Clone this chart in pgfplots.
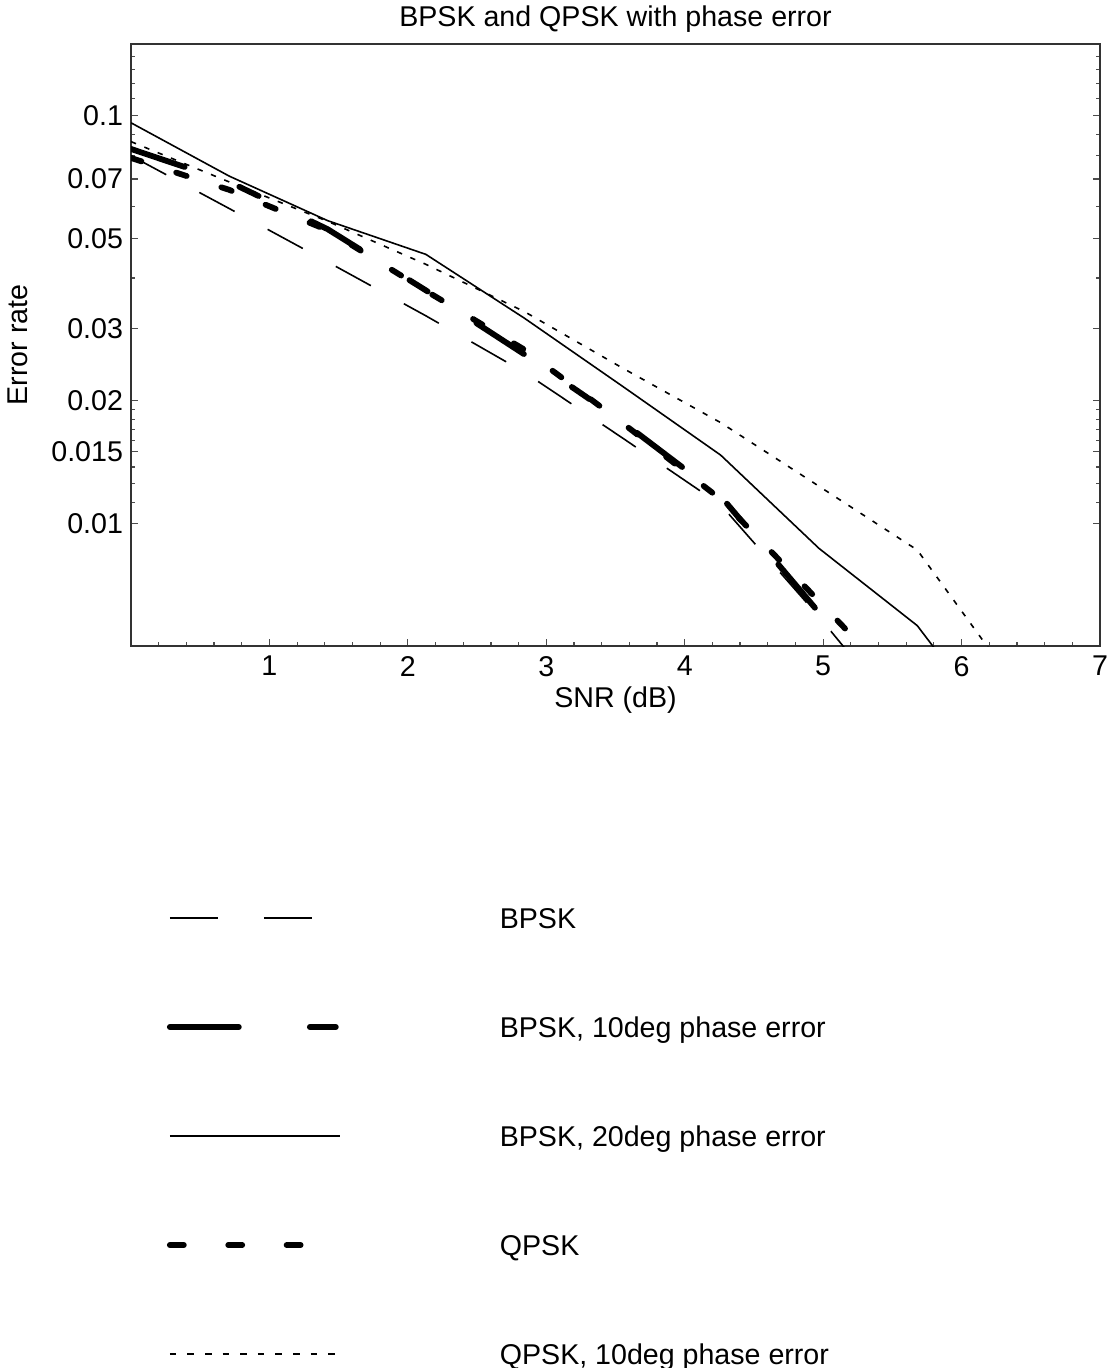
\documentclass[border=0pt]{standalone}
\usepackage{fontspec}
\setmainfont{Liberation Sans}
\usepackage{pgfplots}
\pgfplotsset{compat=1.18}

\newcommand{\lblfont}{\fontsize{14.3}{17}\selectfont}

\begin{document}
\begin{tikzpicture}
\useasboundingbox (-65.5pt,-361pt) rectangle (489pt,323pt);
\begin{axis}[
  scale only axis,
  width=484.5pt, height=301pt,
  xmin=0, xmax=7,
  ymode=log, ymin=0.005, ymax=0.15,
  xtick={0,1,...,7},
  xticklabels={,1,2,3,4,5,6,7},
  minor x tick num=4,
  ytick={0.01,0.015,0.02,0.03,0.05,0.07,0.1},
  yticklabels={0.01,0.015,0.02,0.03,0.05,0.07,0.1},
  minor ytick={0.01125,0.0125,0.01375,0.016,0.017,0.018,0.019,0.04,0.06,0.08,0.09,0.11,0.12,0.13,0.14},
  xtick pos=left, ytick pos=both,
  tick align=inside,
  major tick length=3.5pt, minor tick length=2.2pt,
  axis line style={black!80, line width=0.7pt},
  every tick/.style={black!70, line width=0.6pt},
  /pgf/number format/assume math mode=true,
  tick label style={font=\lblfont},
  xticklabel style={yshift=-1.5pt},
  yticklabel style={xshift=-0.5pt},
  title={BPSK and QPSK with phase error},
  title style={at={(axis description cs:0.5,1)}, anchor=center, yshift=6.5pt, font=\lblfont},
  xlabel={SNR (dB)},
  xlabel style={at={(axis description cs:0.5,-0.0897)}, anchor=center, font=\lblfont},
  ylabel={Error rate},
  ylabel style={at={(axis description cs:-0.1166,0.5)}, anchor=center, rotate=0, font=\lblfont},
  legend style={draw=none, fill=none, at={(axis description cs:0.0371,-0.4286)}, anchor=north west,
    inner sep=0pt, outer sep=0pt, row sep=40.5pt, font=\lblfont,
    nodes={inner sep=0pt, text depth=0pt}},
  legend cell align=left,
  legend image code/.code={\draw[#1] (0pt,0pt) -- (85pt,0pt); \path[draw=none, fill=none] (0pt,-7pt) rectangle (165pt,7pt);},
]
% legend samples (patterns as drawn in the key)
\addlegendimage{black, line width=0.7pt, dash pattern=on 24pt off 23pt}
\addlegendentry{BPSK}
\addlegendimage{black, line width=2.9pt, line cap=round, dash pattern=on 34.5pt off 35.5pt on 13pt off 35.5pt}
\addlegendentry{BPSK, 10deg phase error}
\addlegendimage{black, line width=0.7pt}
\addlegendentry{BPSK, 20deg phase error}
\addlegendimage{black, line width=2.9pt, line cap=round, dash pattern=on 7pt off 22.2pt}
\addlegendentry{QPSK}
\addlegendimage{black, line width=0.7pt, dash pattern=on 3.3pt off 5.5pt}
\addlegendentry{QPSK, 10deg phase error}

% BPSK
\addplot[black, line width=0.8pt, dash pattern=on 20pt off 18.8pt, forget plot] coordinates {
  (0,0.0798) (0.71,0.0592) (1.42,0.0438) (2.13,0.0323) (2.84,0.0235)
  (3.55,0.0162) (4.26,0.0111) (4.97,0.0059) (5.68,0.0030)
};
% BPSK, 10deg
\addplot[black, line width=2.9pt, line cap=round, line join=round,
  dash pattern=on 28.3pt off 29.1pt on 10.7pt off 29.1pt, forget plot] coordinates {
  (0,0.0829) (0.71,0.0688) (1.42,0.0527) (2.13,0.0373) (2.84,0.0260)
  (3.55,0.01775) (4.26,0.01165) (4.97,0.00604) (5.68,0.0033)
};
% BPSK, 20deg
\addplot[black, line width=0.8pt, forget plot] coordinates {
  (0,0.0961) (0.71,0.0711) (1.42,0.0553) (2.13,0.0457) (2.84,0.0319)
  (3.55,0.0217) (4.26,0.0147) (4.97,0.00868) (5.68,0.00561) (6.39,0.0027)
};
% QPSK
\addplot[black, line width=2.9pt, line cap=round, line join=round,
  dash pattern=on 5.5pt off 18.25pt, forget plot] coordinates {
  (0,0.0788) (0.71,0.0658) (1.42,0.0524) (2.13,0.0372) (2.84,0.0267)
  (3.55,0.01763) (4.26,0.01146) (4.97,0.00644) (5.68,0.0036)
};
% QPSK, 10deg
\addplot[black, line width=0.8pt, dash pattern=on 2.7pt off 4.5pt, forget plot] coordinates {
  (0,0.0864) (0.71,0.0688) (1.42,0.0551) (2.13,0.0432) (2.84,0.0331)
  (3.55,0.02405) (4.26,0.01766) (4.97,0.01233) (5.68,0.0086) (6.39,0.0040)
};
\end{axis}
\end{tikzpicture}
\end{document}
